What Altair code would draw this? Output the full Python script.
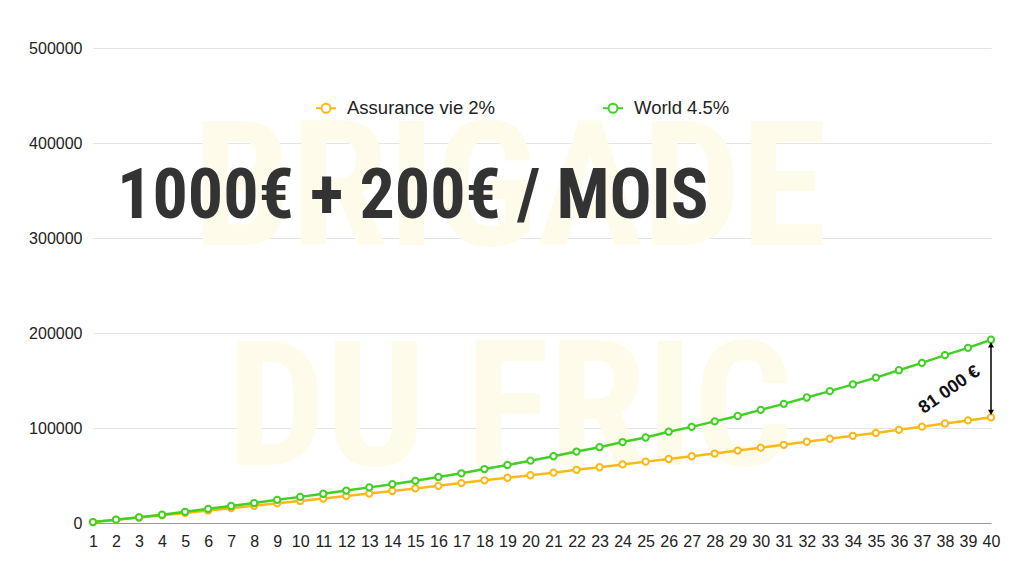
import altair as alt
import pandas as pd

years = list(range(1, 41))
assurance = [1000, 3400, 5800, 8200, 10600, 13200, 15600, 18100, 20700, 23200,
             25700, 28400, 31000, 33700, 36400, 39100, 42000, 44900, 47600, 50300,
             53000, 56000, 58700, 61700, 64600, 67400, 70300, 73100, 76200, 79300,
             82300, 85500, 88700, 91800, 94800, 98100, 101400, 104700, 108000, 111200]
world = [1000, 3500, 6000, 8700, 11800, 14900, 17900, 21000, 24400, 27500,
         30800, 34100, 37500, 40900, 44400, 48400, 52300, 56800, 61100, 65600,
         70300, 75200, 79800, 85200, 90000, 96100, 101200, 107000, 112700, 119100,
         125400, 132100, 138800, 145900, 153000, 160800, 168500, 176700, 184400, 192900]
series_names = ["Assurance vie 2%", "World 4.5%"]
series_colors = ["#FBB919", "#42D024"]
title_text = "1000€ + 200€ / MOIS"
watermark = ["BRIGADE", "DU FRIC"]
gap_label = "81 000 €"

rows = []
for name, vals in zip(series_names, [assurance, world]):
    for yr, v in zip(years, vals):
        rows.append({"year": yr, "value": v, "series": name})
df = pd.DataFrame(rows)

COND = "Roboto Condensed, Open Sans Condensed, DejaVu Sans Condensed"

legend_path = "M-1,0L-0.45,0M0.45,0L1,0M0.45,0A0.45,0.45,0,1,1,-0.45,0A0.45,0.45,0,1,1,0.45,0Z"
legend = alt.Legend(
    title=None, orient="none", legendX=222, legendY=49, direction="horizontal",
    symbolType=legend_path, symbolSize=400, symbolStrokeWidth=2,
    symbolFillColor="white", labelFontSize=18.5, labelFont="Liberation Sans",
    labelColor="#222", columnPadding=103, labelOffset=10,
)
color = alt.Color("series:N", scale=alt.Scale(domain=series_names, range=series_colors),
                  legend=legend, sort=series_names)

x = alt.X("year:Q", scale=alt.Scale(domain=[1, 40], nice=False, zero=False),
          axis=alt.Axis(values=years, title=None, labelOverlap=False, ticks=False,
                        grid=False, labelFontSize=16, labelPadding=10,
                        domainColor="#9a9a9a", labelColor="#222",
                        labelFont="Liberation Sans", labelFlush=False))
y = alt.Y("value:Q", scale=alt.Scale(domain=[0, 500000], nice=False),
          axis=alt.Axis(values=[0, 100000, 200000, 300000, 400000, 500000], title=None,
                        format="d", ticks=False, domain=False, gridColor="#e4e4e4",
                        labelFontSize=16, labelPadding=11, labelColor="#222",
                        labelFont="Liberation Sans", labelOverlap=False))

wm1 = alt.Chart(pd.DataFrame({"t": [watermark[0]]})).mark_text(
    font=COND, fontWeight="bold", fontSize=175, color="#FFFBEA",
    align="center", baseline="alphabetic"
).encode(text="t:N", x=alt.value(417), y=alt.value(197))
wm2 = alt.Chart(pd.DataFrame({"t": [watermark[1]]})).mark_text(
    font=COND, fontWeight="bold", fontSize=175, color="#FFFBEA",
    align="center", baseline="alphabetic"
).encode(text="t:N", x=alt.value(417), y=alt.value(417))

lines = alt.Chart(df).mark_line(strokeWidth=2.5).encode(x=x, y=y, color=color)
points = alt.Chart(df).mark_point(filled=False, fill="white", fillOpacity=1, opacity=1,
                                   strokeWidth=2, size=40, shape="circle").encode(
    x=x, y=y, color=color)

title = alt.Chart(pd.DataFrame({"t": [title_text]})).mark_text(
    font=COND, fontWeight="bold", fontSize=70, color="#333333",
    align="left", baseline="alphabetic"
).encode(text="t:N", x=alt.value(24), y=alt.value(170))

arrow_df = pd.DataFrame({"year": [40], "value": [116500], "hi": [187500]})
top_df = pd.DataFrame({"year": [40], "value": [187500]})
bot_df = pd.DataFrame({"year": [40], "value": [116500]})
rule = alt.Chart(arrow_df).mark_rule(color="black", strokeWidth=1.5).encode(
    x=x, y=y, y2="hi:Q")
head_top = alt.Chart(top_df).mark_point(shape="triangle-up", filled=True, color="black",
                                        size=35, opacity=1).encode(x=x, y=y)
head_bot = alt.Chart(bot_df).mark_point(shape="triangle-down", filled=True, color="black",
                                        size=35, opacity=1).encode(x=x, y=y)
label_df = pd.DataFrame({"year": [38.2], "value": [140000], "t": [gap_label]})
gap = alt.Chart(label_df).mark_text(fontSize=18, fontWeight="bold", angle=325,
                                     font="Liberation Sans", color="#111").encode(
    x=x, y=y, text="t:N")

chart = alt.layer(wm1, wm2, lines, points, title, rule, head_top, head_bot, gap).properties(
    width=898, height=475,
    padding={"left": 93, "top": 48, "right": 33, "bottom": 53},
    autosize=alt.AutoSizeParams(type="none"),
    background="white",
).configure_view(stroke=None)

chart.save("out.html", embed_options={"renderer": "svg", "actions": False})
